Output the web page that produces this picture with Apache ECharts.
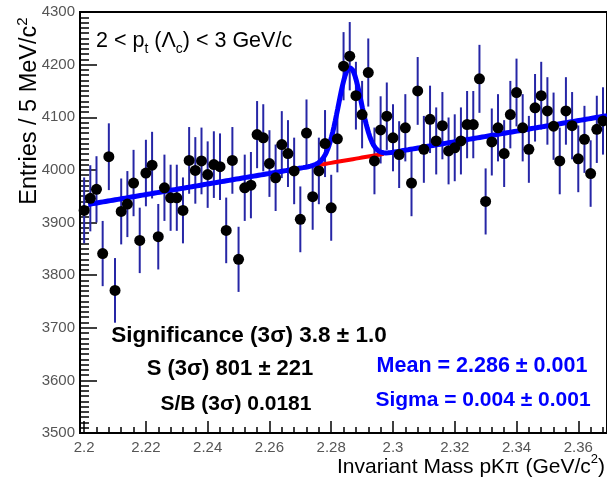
<!DOCTYPE html>
<html><head><meta charset="utf-8">
<script src="https://cdn.jsdelivr.net/npm/echarts@6/dist/echarts.min.js"></script>
<style>html,body{margin:0;padding:0;background:#fff}#c{width:607px;height:483px}</style>
</head><body><div id="c"></div>
<script>
// ---- data ----
const binCenters = [2.200,2.202,2.204,2.206,2.208,2.210,2.212,2.214,2.216,2.218,
  2.220,2.222,2.224,2.226,2.228,2.230,2.232,2.234,2.236,2.238,
  2.240,2.242,2.244,2.246,2.248,2.250,2.252,2.254,2.256,2.258,
  2.260,2.262,2.264,2.266,2.268,2.270,2.272,2.274,2.276,2.278,
  2.280,2.282,2.284,2.286,2.288,2.290,2.292,2.294,2.296,2.298,
  2.300,2.302,2.304,2.306,2.308,2.310,2.312,2.314,2.316,2.318,
  2.320,2.322,2.324,2.326,2.328,2.330,2.332,2.334,2.336,2.338,
  2.340,2.342,2.344,2.346,2.348,2.350,2.352,2.354,2.356,2.358,
  2.360,2.362,2.364,2.366,2.368];
const entries = [3923,3946,3963,3841,4025,3771,3921,3935,3975,3866,
  3994,4009,3873,3966,3947,3947,3923,4018,3999,4017,
  3991,4010,4006,3885,4018,3830,3966,3971,4067,4061,
  4012,3985,4048,4031,3998,3906,4070,3949,3998,4050,
  3928,4059,4197,4216,4141,4105,4185,4017,4076,4102,
  4061,4029,4080,3975,4150,4039,4096,4055,4084,4036,
  4042,4055,4086,4086,4173,3940,4053,4080,4031,4105,
  4147,4080,4039,4118,4141,4112,4083,4017,4112,4084,
  4021,4058,3993,4077,4093];
const xTickLabels = [2.2,2.22,2.24,2.26,2.28,2.3,2.32,2.34,2.36];
const yTickLabels = [3500,3600,3700,3800,3900,4000,4100,4200,4300];
// fit parameters (Gaussian + linear background)
const fitMean = 2.286, fitSigma = 0.0037, fitAmplitude = 175;
const bgAt22 = 3933, bgSlope = 1004;
const fitRange = [2.2013, 2.3695];
const bgOnlyRange = [2.275, 2.297];

// ---- build ----
const FONT = '"Liberation Sans", Arial, Helvetica, sans-serif';
const bg = x => bgAt22 + bgSlope * (x - 2.2);
const total = x => bg(x) + fitAmplitude * Math.exp(-0.5 * Math.pow((x - fitMean) / fitSigma, 2));
function sample(f, a, b, step) { const out = []; for (let x = a; x <= b + 1e-9; x += step) out.push([x, f(x)]); return out; }
const blueCurve = sample(total, fitRange[0], fitRange[1], 0.0004);
const redCurve = sample(bg, bgOnlyRange[0], bgOnlyRange[1], 0.001);
const points = binCenters.map((x, i) => [x, entries[i]]);
const errBars = binCenters.map((x, i) => [x, entries[i] - Math.sqrt(entries[i]), entries[i] + Math.sqrt(entries[i])]);
const minorX = []; for (let k = 0; k <= 42; k++) minorX.push(+(2.2 + 0.004 * k).toFixed(3));

const xMin = 2.19866, xMax = 2.3693;
const chart = echarts.init(document.getElementById('c'), null, {renderer: 'canvas'});
chart.setOption({
  animation: false,
  backgroundColor: '#fff',
  grid: {left: 80, right: -5, top: 12, bottom: 50, show: true, borderColor: '#000', borderWidth: 2, backgroundColor: 'transparent'},
  xAxis: [{
    type: 'value', min: xMin, max: xMax, position: 'bottom',
    axisLine: {show: true, onZero: false, lineStyle: {color: '#000', width: 2}},
    axisTick: {show: true, inside: true, length: 12, customValues: xTickLabels, lineStyle: {color: '#000', width: 1.5}},
    axisLabel: {show: true, customValues: xTickLabels, formatter: v => String(+(+v).toFixed(2)), color: '#555', fontSize: 15, fontFamily: FONT, margin: 7},
    splitLine: {show: false}
  }, {
    type: 'value', min: xMin, max: xMax, position: 'bottom',
    axisLine: {show: false, onZero: false},
    axisTick: {show: true, inside: true, length: 6, customValues: minorX, lineStyle: {color: '#000', width: 1.5}},
    axisLabel: {show: false},
    splitLine: {show: false}
  }],
  yAxis: {
    type: 'value', min: yTickLabels[0], max: yTickLabels[yTickLabels.length - 1], interval: 100,
    axisLine: {show: true, lineStyle: {color: '#000', width: 2}},
    axisTick: {show: true, inside: true, length: 17, lineStyle: {color: '#000', width: 1.5}},
    minorTick: {show: true, splitNumber: 10, length: 9, lineStyle: {color: '#000', width: 1.5}},
    axisLabel: {color: '#555', fontSize: 15, fontFamily: FONT, margin: 5, formatter: v => String(v)},
    splitLine: {show: false}
  },
  series: [{
    type: 'custom', xAxisIndex: 0, yAxisIndex: 0, data: errBars, z: 1, clip: true,
    encode: {x: 0, y: [1, 2]},
    renderItem: (params, api) => {
      const p1 = api.coord([api.value(0), api.value(1)]);
      const p2 = api.coord([api.value(0), api.value(2)]);
      return {type: 'line', shape: {x1: p1[0], y1: p1[1], x2: p2[0], y2: p2[1]}, style: {stroke: '#2626a6', lineWidth: 2}};
    }
  }, {
    type: 'line', data: redCurve, showSymbol: false, symbol: 'none', z: 2,
    lineStyle: {color: '#ff0000', width: 4}
  }, {
    type: 'line', data: blueCurve, showSymbol: false, symbol: 'none', z: 3, clip: true,
    lineStyle: {color: '#0000ff', width: 5}
  }, {
    type: 'scatter', data: points, symbol: 'circle', symbolSize: 11, z: 4,
    itemStyle: {color: '#000', opacity: 1}
  }],
  graphic: [
    {type: 'text', x: 96, y: 41, z: 10, style: {
      text: '{n|2 < p}{s|t}{n| (Λ}{s|c}{n|) < 3 GeV/c}', align: 'left', verticalAlign: 'middle',
      rich: {n: {fontSize: 21.5, fontFamily: FONT, fill: '#000', lineHeight: 30}, s: {fontSize: 14, fontFamily: FONT, fill: '#000', verticalAlign: 'bottom', lineHeight: 14}}}},
    {type: 'text', x: 30, y: 111, rotation: Math.PI / 2, z: 10, style: {
      text: '{n|Entries / 5 MeV/c}{p|2}', align: 'center', verticalAlign: 'middle',
      rich: {n: {fontSize: 23.5, fontFamily: FONT, fill: '#000', lineHeight: 30}, p: {fontSize: 15, fontFamily: FONT, fill: '#000', verticalAlign: 'top', lineHeight: 15}}}},
    {type: 'text', x: 605, y: 467, z: 10, style: {
      text: '{n|Invariant Mass pKπ (GeV/c}{p|2}{n|)}', align: 'right', verticalAlign: 'middle',
      rich: {n: {fontSize: 21, fontFamily: FONT, fill: '#000', lineHeight: 28}, p: {fontSize: 13, fontFamily: FONT, fill: '#000', verticalAlign: 'top', lineHeight: 13}}}},
    {type: 'text', x: 249, y: 336, z: 10, style: {text: 'Significance (3σ) 3.8 ± 1.0', align: 'center', verticalAlign: 'middle', font: 'bold 22.5px ' + FONT, fill: '#000'}},
    {type: 'text', x: 230, y: 369, z: 10, style: {text: 'S (3σ) 801 ± 221', align: 'center', verticalAlign: 'middle', font: 'bold 22px ' + FONT, fill: '#000'}},
    {type: 'text', x: 236, y: 404, z: 10, style: {text: 'S/B (3σ) 0.0181', align: 'center', verticalAlign: 'middle', font: 'bold 21px ' + FONT, fill: '#000'}},
    {type: 'text', x: 482, y: 366, z: 10, style: {text: 'Mean = 2.286 ± 0.001', align: 'center', verticalAlign: 'middle', font: 'bold 21.5px ' + FONT, fill: '#0000ff'}},
    {type: 'text', x: 483, y: 400, z: 10, style: {text: 'Sigma = 0.004 ± 0.001', align: 'center', verticalAlign: 'middle', font: 'bold 21px ' + FONT, fill: '#0000ff'}}
  ]
});
</script></body></html>
